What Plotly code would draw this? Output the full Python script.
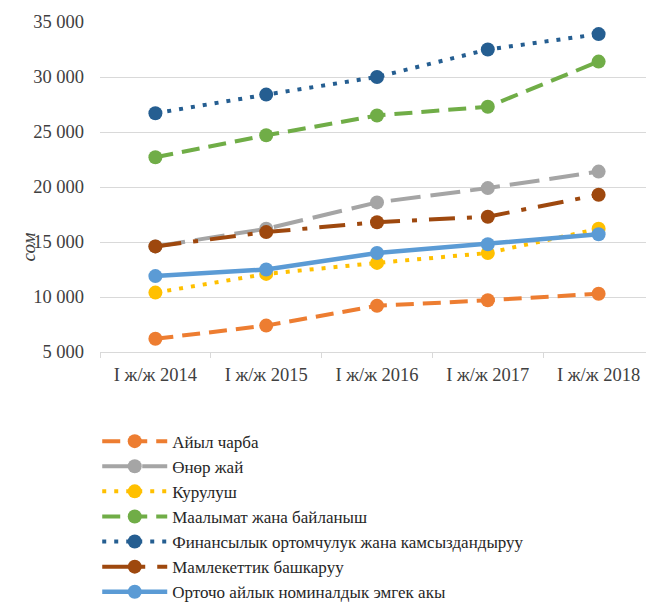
import plotly.graph_objects as go

# categories (first half-years)
years = ["I ж/ж 2014", "I ж/ж 2015", "I ж/ж 2016", "I ж/ж 2017", "I ж/ж 2018"]

# average monthly wages by sector, сом
agriculture = [6200, 7400, 9200, 9700, 10300]
industry = [14600, 16200, 18600, 19900, 21400]
construction = [10400, 12100, 13100, 14000, 16200]
info_comm = [22700, 24700, 26500, 27300, 31400]
finance = [26700, 28400, 30000, 32500, 33900]
public_admin = [14600, 15900, 16800, 17300, 19300]
average = [11900, 12500, 14000, 14800, 15700]

series = [
    ("Айыл чарба", agriculture, "#ED7D31", "18px,9px"),
    ("Өнөр жай", industry, "#A5A5A5", "30px,10px"),
    ("Курулуш", construction, "#FFC000", "4px,8px"),
    ("Маалымат жана байланыш", info_comm, "#70AD47", "18px,9px"),
    ("Финансылык ортомчулук жана камсыздандыруу", finance, "#255E91", "4px,8px"),
    ("Мамлекеттик башкаруу", public_admin, "#9E480E", "26px,12px,5px,12px"),
    ("Орточо айлык номиналдык эмгек акы", average, "#5B9BD5", "solid"),
]

FONT = "Liberation Serif, Times New Roman, serif"

fig = go.Figure()
for name, vals, color, dash in series:
    fig.add_trace(go.Scatter(
        x=years,
        y=vals,
        name=name,
        mode="lines+markers",
        line=dict(color=color, width=4.5 if dash == "solid" else 4, dash=dash),
        marker=dict(color=color, size=14),
    ))

# page body has an 8px margin, so the figure is 8px smaller than the window
fig.update_layout(
    width=646,
    height=597,
    margin=dict(l=92, r=0, t=14, b=253, autoexpand=False),
    plot_bgcolor="white",
    paper_bgcolor="white",
    separators=", ",
    font=dict(family=FONT, size=18, color="#404040"),
    showlegend=True,
    legend=dict(
        x=-0.005, y=-0.217, xanchor="left", yanchor="top",
        font=dict(family=FONT, size=17, color="#262626"),
        itemwidth=65,
        tracegroupgap=0,
        bgcolor="rgba(0,0,0,0)",
    ),
    xaxis=dict(
        type="category",
        range=[-0.5, 4.5],
        showgrid=False,
        showline=True,
        linecolor="#d9d9d9",
        linewidth=1,
        ticks="outside",
        tickson="boundaries",
        ticklen=5,
        tickcolor="#d9d9d9",
        ticklabelstandoff=6,
        tickfont=dict(family=FONT, size=18.5, color="#404040"),
    ),
    yaxis=dict(
        range=[5000, 35000],
        dtick=5000,
        tickformat=",d",
        showgrid=True,
        gridcolor="#d9d9d9",
        gridwidth=1,
        zeroline=False,
        showline=False,
        ticks="",
        ticklabelstandoff=15,
        tickfont=dict(family=FONT, size=18.5, color="#404040"),
    ),
)

fig.add_annotation(
    text="<i>сом</i>",
    xref="paper", yref="paper",
    x=-0.13, y=0.32,
    xanchor="center", yanchor="middle",
    textangle=-90,
    showarrow=False,
    font=dict(family=FONT, size=19, color="#404040"),
)

fig.write_html("out.html")
